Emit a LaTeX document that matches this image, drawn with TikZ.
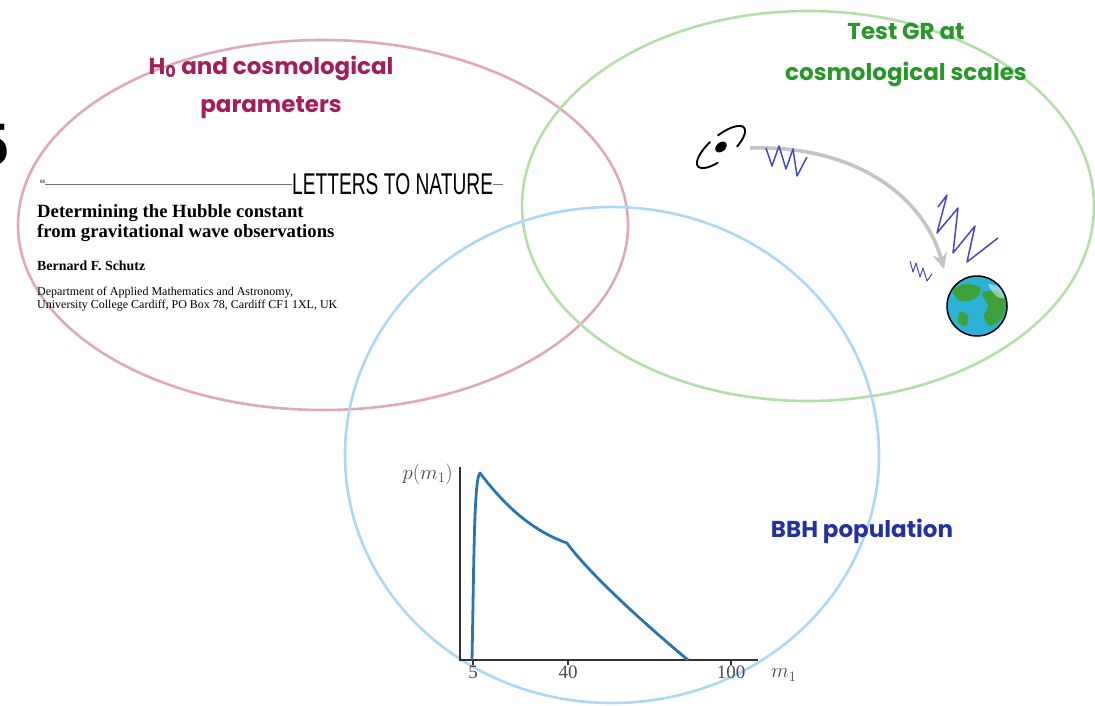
\documentclass[tikz,border=0pt]{standalone}
\usepackage{fontspec}
\setmainfont{Liberation Serif}
\newfontfamily\comicfont{Poppins}
\newfontfamily\headsans{Liberation Sans}
\usetikzlibrary{arrows.meta, positioning, calc}
\definecolor{ringpink}{RGB}{220,170,184}
\definecolor{ringgreen}{RGB}{180,222,170}
\definecolor{ringblue}{RGB}{172,216,246}
\definecolor{titlepink}{RGB}{160,30,92}
\definecolor{titlegreen}{RGB}{40,150,40}
\definecolor{titleblue}{RGB}{35,50,160}
\definecolor{curveblue}{RGB}{42,116,176}
\definecolor{wavecol}{RGB}{70,72,195}
\definecolor{earthsea}{RGB}{45,178,215}
\definecolor{earthland}{RGB}{62,160,58}

\begin{document}
\begin{tikzpicture}[x=1pt, y=-1pt,
  ring/.style={line width=2.6pt},
  title/.style={font=\comicfont\bfseries\fontsize{23}{38}\selectfont, align=center},
  wave/.style={wavecol, line width=1.5pt, line join=round},
  gwarrow/.style={-{Stealth[length=16pt, width=15pt]}, line width=3.6pt, black!23},
  axis/.style={line width=1.3pt, black!80},
  ticklbl/.style={font=\fontsize{19}{19}\selectfont, text=black!70, inner sep=1pt},
]
\useasboundingbox (0,0) rectangle (1095,706);

% three overlapping science cases
\draw[ring, ringpink]  (323,225) ellipse [x radius=305, y radius=185];
\draw[ring, ringgreen] (808,206) ellipse [x radius=286, y radius=195];
\draw[ring, ringblue]  (612,455) ellipse [x radius=267, y radius=248];

\node[title, text=titlepink]  (hzero)  at (271,87)  {H\textsubscript{0} and cosmological\\parameters};
\node[title, text=titlegreen, font=\comicfont\bfseries\fontsize{23}{41}\selectfont] (testgr) at (906,55)
  {Test GR at\\cosmological scales};
\node[title, text=titleblue]  (bbh)    at (862,531) {BBH population};

% clipped slide number at the border
\node[anchor=east, inner sep=0, font=\headsans\bfseries\fontsize{60}{60}\selectfont] (slideno) at (9,145) {5};

% the paper
\node[anchor=west, inner sep=0, xscale=0.64, font=\headsans\fontsize{30}{30}\selectfont] (letters) at (292,184) {LETTERS TO NATURE};
\node[anchor=south west, inner sep=0, font=\fontsize{5}{5}\selectfont] (pageno) at (40,184) {88};
\draw[black!55, line width=0.8pt] (pageno.south east) -- (letters.west);
\draw[black!55, line width=0.8pt] (letters.east) -- ++(10,0);
\node[anchor=north west, inner sep=0, align=left, font=\bfseries\fontsize{18.7}{20}\selectfont] (heading) at (37,204)
  {Determining the Hubble constant\\from gravitational wave observations};
\node[anchor=north west, inner sep=0, font=\bfseries\fontsize{13.9}{14}\selectfont] (author) at (37,261) {Bernard F. Schutz};
\node[anchor=north west, inner sep=0, align=left, font=\fontsize{12}{13}\selectfont] (dept) at (37,287)
  {Department of Applied Mathematics and Astronomy,\\University College Cardiff, PO Box 78, Cardiff CF1 1XL, UK};

% binary, waves and the earth
\coordinate (binary) at (721,147);
\coordinate (arrival) at (944,269);
\begin{scope}[shift={(binary)}, rotate=40]
  \draw[line width=1.9pt, line cap=round] plot[domain=-80:65, samples=30] ({30*cos(\x)},{11*sin(\x)});
  \draw[line width=1.9pt, line cap=round] plot[domain=115:260, samples=30] ({30*cos(\x)},{11*sin(\x)});
  \fill (0,0) ellipse [x radius=6.5, y radius=4.5];
\end{scope}
\draw[gwarrow] ($(binary)+(29,1)$) .. controls (860,145) and (925,200) .. (arrival);
\draw[wave] (766,148) -- (772,166) -- (779,146) -- (786,169) -- (793,149) -- (797,176) -- (807,157);
\draw[wave] (938,207) -- (947,195) -- (937,233) -- (958,208) -- (953,253) -- (975,226) -- (967,262) -- (998,238);
\draw[wave, line width=1pt] (910,261) -- (913,272) -- (916,263) -- (920,277) -- (923,268) -- (927,281) -- (932,274);

\node[circle, draw, line width=1.5pt, fill=earthsea, minimum size=60pt, inner sep=0] (earth) at (977,306) {};
\begin{scope}
  \clip (earth.center) circle [radius=29];
  \fill[earthland] plot[smooth cycle] coordinates {(953,290) (965,284) (980,287) (978,296) (968,301) (958,300)};
  \fill[earthland] plot[smooth cycle] coordinates {(982,293) (996,291) (1006,302) (1002,318) (990,326) (984,316) (988,306)};
  \fill[earthland] plot[smooth cycle] coordinates {(960,312) (968,316) (966,326) (958,322)};
  \fill[white, opacity=0.45] plot[smooth cycle] coordinates {(988,284) (1000,288) (1004,298) (996,296)};
\end{scope}

% primary mass distribution
\draw[axis] (460,467) -- (460,660) -- (758,660);
\foreach \x/\lbl in {473/5, 568/40, 731/100} {
  \draw[axis] (\x,660) -- (\x,665);
  \node[ticklbl, anchor=north] (tick\lbl) at (\x,665) {\lbl};
}
\node[ticklbl, anchor=east, font=\fontsize{20}{20}\selectfont] (ylbl) at (454,474) {$p(m_1)$};
\node[ticklbl, anchor=west, font=\fontsize{20}{20}\selectfont] (xlbl) at (770,675) {$m_1$};
\draw[curveblue, line width=2.8pt, line join=round]
  (472,660) .. controls (474,560) and (474,478) .. (480,473)
  .. controls (496,494) and (524,528) .. (567,543)
  .. controls (588,572) and (640,620) .. (688,660);
\end{tikzpicture}
\end{document}
